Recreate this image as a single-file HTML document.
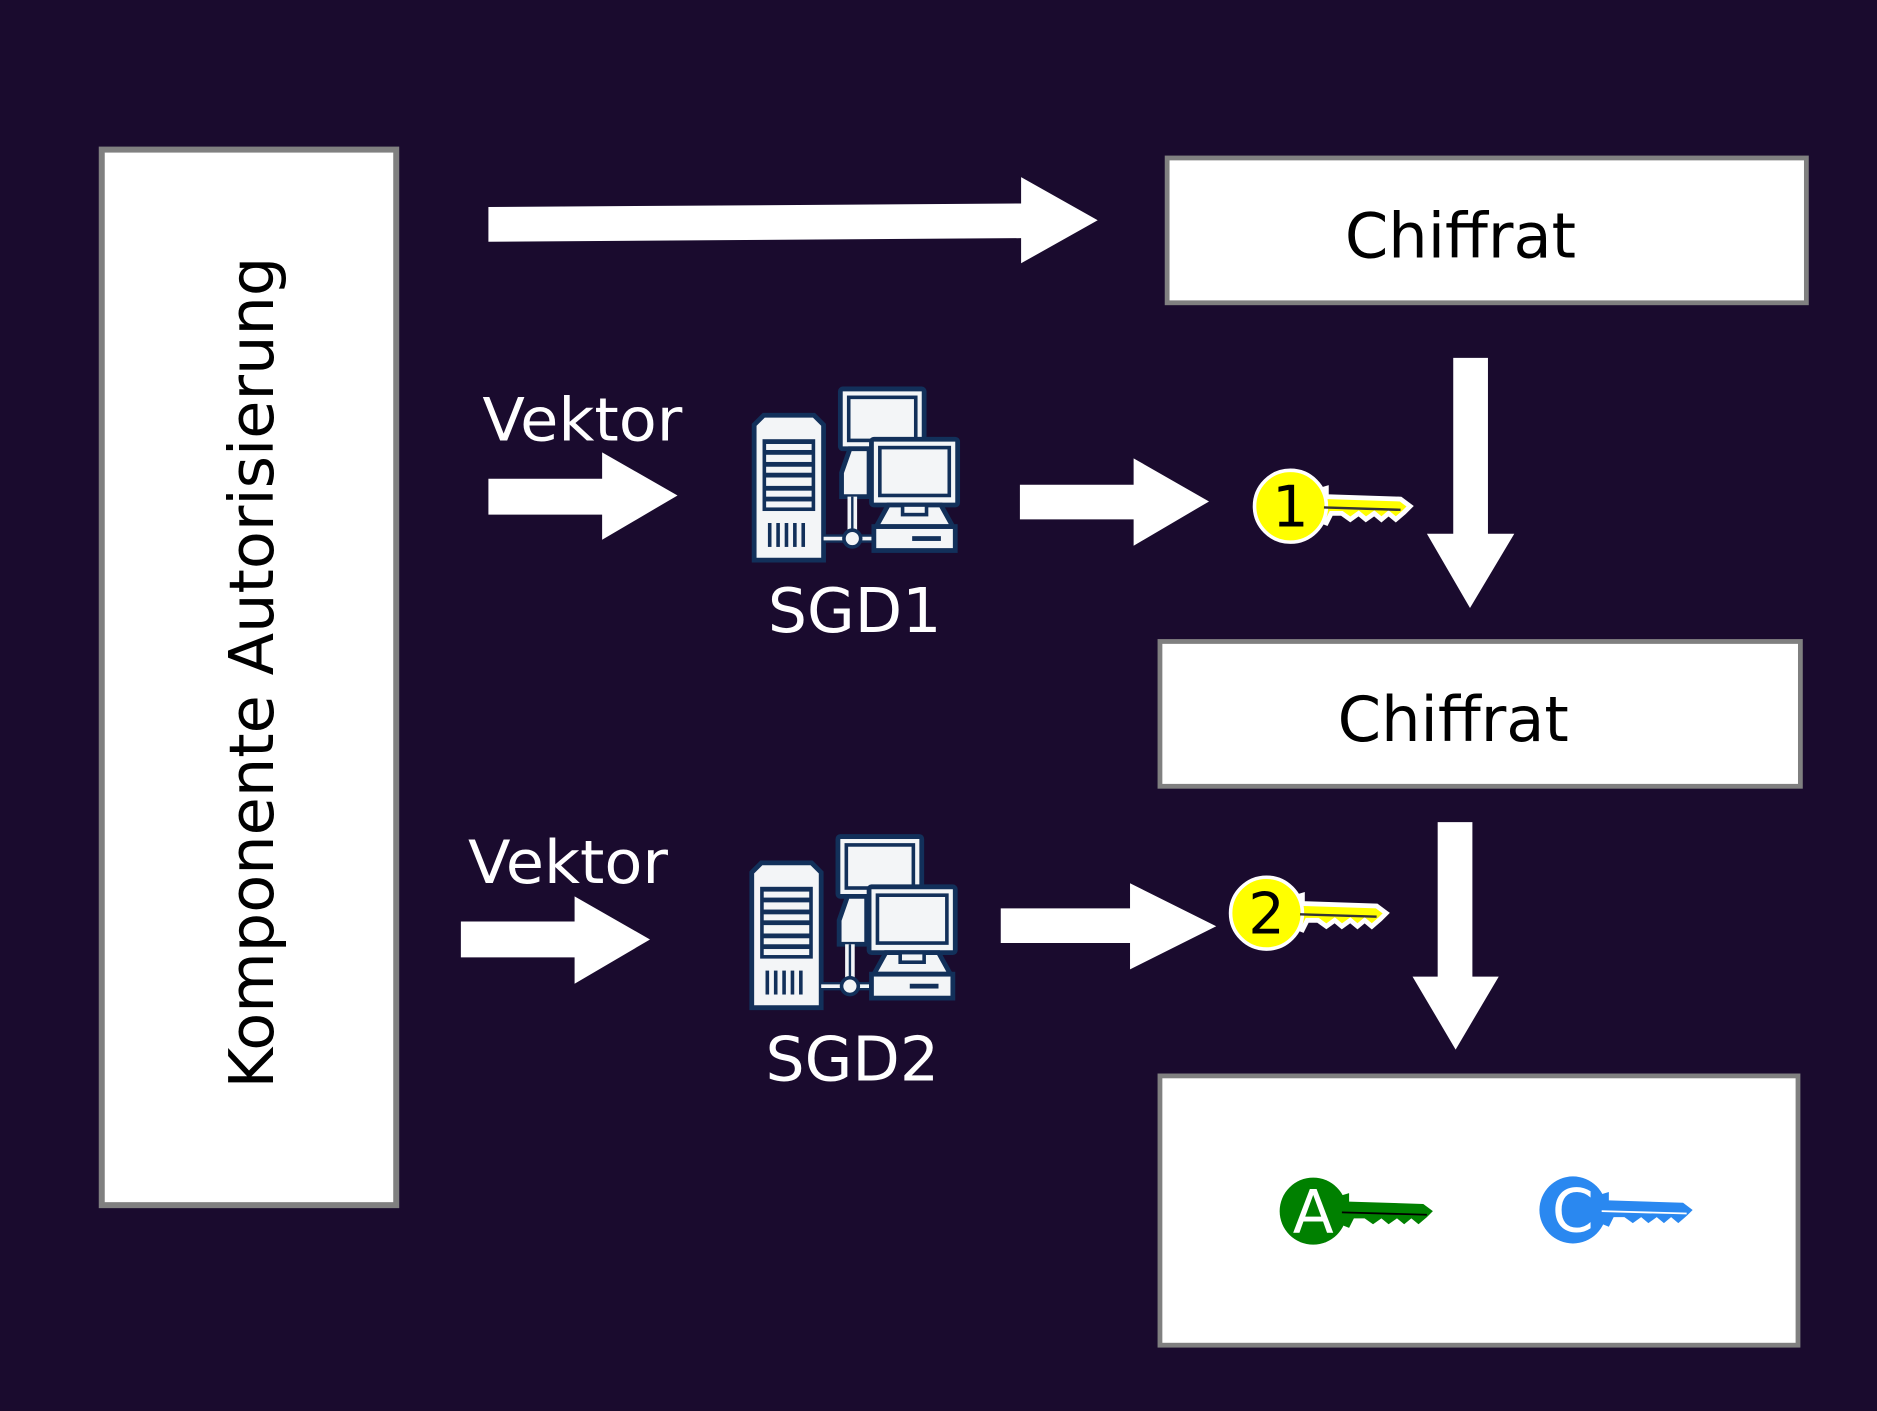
<!DOCTYPE html>
<html><head><meta charset="utf-8"><style>html,body{margin:0;padding:0;background:#1a0b2e;}svg{display:block}</style></head>
<body>
<svg width="1877" height="1411" viewBox="0 0 1568 1179" preserveAspectRatio="none" xmlns="http://www.w3.org/2000/svg" font-family="DejaVu Sans, Liberation Sans, sans-serif">
<defs>
<g id="srv">
  <path d="M2,30 L10,22 L52,22 L60,30 L60,143 L2,143 Z" fill="#f3f5f7" stroke="#12305a" stroke-width="4"/>
  <rect x="9" y="42" width="44" height="60" fill="#12305a"/>
  <rect x="12" y="46" width="38" height="5" fill="#f3f5f7"/>
  <rect x="12" y="55" width="38" height="6" fill="#f3f5f7"/>
  <rect x="12" y="65" width="38" height="5" fill="#f3f5f7"/>
  <rect x="12" y="74" width="38" height="7" fill="#f3f5f7"/>
  <rect x="12" y="85" width="38" height="5" fill="#f3f5f7"/>
  <rect x="12" y="94" width="38" height="5" fill="#f3f5f7"/>
  <g stroke="#12305a" stroke-width="3"><line x1="15" y1="112" x2="15" y2="132"/><line x1="22" y1="112" x2="22" y2="132"/><line x1="29" y1="112" x2="29" y2="132"/><line x1="36" y1="112" x2="36" y2="132"/><line x1="43" y1="112" x2="43" y2="132"/></g>
  <rect x="74" y="0" width="70" height="50" fill="#f3f5f7" stroke="#12305a" stroke-width="4" rx="2"/>
  <rect x="81" y="7" width="56" height="36" fill="#f3f5f7" stroke="#12305a" stroke-width="3"/>
  <path d="M82,50 L75,70 L75,90 L98,90 L98,50 Z" fill="#f3f5f7" stroke="#12305a" stroke-width="4"/>
  <line x1="84" y1="90" x2="84" y2="122" stroke="#f3f5f7" stroke-width="8"/>
  <line x1="84" y1="90" x2="84" y2="122" stroke="#12305a" stroke-width="2"/>
  <line x1="60" y1="125" x2="100" y2="125" stroke="#12305a" stroke-width="7"/>
  <line x1="60" y1="125" x2="100" y2="125" stroke="#f3f5f7" stroke-width="3"/>
  <circle cx="84" cy="125" r="7" fill="#f3f5f7" stroke="#12305a" stroke-width="3"/>
  <rect x="100" y="42" width="72" height="55" fill="#f3f5f7" stroke="#12305a" stroke-width="4" rx="2"/>
  <rect x="107" y="49" width="58" height="40" fill="#f3f5f7" stroke="#12305a" stroke-width="3"/>
  <path d="M114,97 L104,115 L168,115 L158,97 Z" fill="#f3f5f7" stroke="#12305a" stroke-width="4"/>
  <rect x="126" y="97" width="20" height="8" fill="#f3f5f7" stroke="#12305a" stroke-width="3"/>
  <rect x="102" y="115" width="68" height="20" fill="#f3f5f7" stroke="#12305a" stroke-width="4"/>
  <rect x="134" y="123" width="24" height="4" fill="#12305a"/>
</g>
<g id="keyblade">
  <path d="M20,-12 L30,-15 L30,-8 L92,-6 L100,0 L95,5 L88,11 L82,6 L76,11 L70,6 L63,11 L57,6 L50,11 L43,6 L34,6 L30,14 L20,10 Z"/>
</g>
</defs>
<rect width="1568" height="1179" fill="#1a0b2e"/>
<rect x="85" y="125" width="246" height="882" fill="#fff" stroke="#808080" stroke-width="5"/>
<text transform="translate(228,562) rotate(-90)" text-anchor="middle" font-size="51" fill="#000" textLength="695" lengthAdjust="spacingAndGlyphs">Komponente Autorisierung</text>
<rect x="975" y="132" width="534" height="121" fill="#fff" stroke="#808080" stroke-width="4"/>
<text x="1220" y="215" text-anchor="middle" font-size="52" fill="#000">Chiffrat</text>
<rect x="969" y="536" width="535" height="121" fill="#fff" stroke="#808080" stroke-width="4"/>
<text x="1214" y="619" text-anchor="middle" font-size="52" fill="#000">Chiffrat</text>
<rect x="969" y="899" width="533" height="225" fill="#fff" stroke="#808080" stroke-width="4"/>
<g fill="#fff">
<polygon points="408,173 853,170 853,148 917,184 853,220 853,199 408,202"/>
<polygon points="408,400 503,400 503,378 566,414 503,451 503,430 408,430"/>
<polygon points="852,405 947,405 947,383 1010,419 947,456 947,434 852,434"/>
<polygon points="385,770 480,770 480,749 543,785 480,822 480,800 385,800"/>
<polygon points="836,759 944,759 944,738 1016,774 944,810 944,788 836,788"/>
<polygon points="1214,299 1243,299 1243,446 1265,446 1228,508 1192,446 1214,446"/>
<polygon points="1201,687 1230,687 1230,816 1252,816 1216,877 1180,816 1201,816"/>
</g>
<text x="403" y="368" font-size="50" fill="#fff" textLength="167" lengthAdjust="spacingAndGlyphs">Vektor</text>
<text x="391" y="738" font-size="50" fill="#fff" textLength="167" lengthAdjust="spacingAndGlyphs">Vektor</text>
<use href="#srv" x="628" y="325"/>
<use href="#srv" x="626" y="699"/>
<text x="714" y="528" text-anchor="middle" font-size="51.5" fill="#fff">SGD1</text>
<text x="712" y="903" text-anchor="middle" font-size="51.5" fill="#fff">SGD2</text>
<g transform="translate(1078,423)">
  <use href="#keyblade" fill="#ffff00" stroke="#fff" stroke-width="4"/>
  <circle r="30" fill="#ffff00" stroke="#fff" stroke-width="3"/>
  <line x1="28" y1="1" x2="92" y2="3" stroke="#333" stroke-width="2"/>
  <text y="17" text-anchor="middle" font-size="48" fill="#000">1</text>
</g>
<g transform="translate(1058,763)">
  <use href="#keyblade" fill="#ffff00" stroke="#fff" stroke-width="4"/>
  <circle r="30" fill="#ffff00" stroke="#fff" stroke-width="3"/>
  <line x1="28" y1="1" x2="92" y2="3" stroke="#333" stroke-width="2"/>
  <text y="17" text-anchor="middle" font-size="48" fill="#000">2</text>
</g>
<g transform="translate(1097,1012)">
  <use href="#keyblade" fill="#008000"/>
  <circle r="28" fill="#008000"/>
  <line x1="24" y1="1" x2="95" y2="3" stroke="#000" stroke-width="1.5"/>
  <text y="18" text-anchor="middle" font-size="50" fill="#fff">A</text>
</g>
<g transform="translate(1314,1011)">
  <use href="#keyblade" fill="#2a88f0"/>
  <circle r="28" fill="#2a88f0"/>
  <line x1="24" y1="1" x2="95" y2="3" stroke="#fff" stroke-width="1.5"/>
  <text y="18" text-anchor="middle" font-size="50" fill="#fff">C</text>
</g>
</svg>
</body></html>
